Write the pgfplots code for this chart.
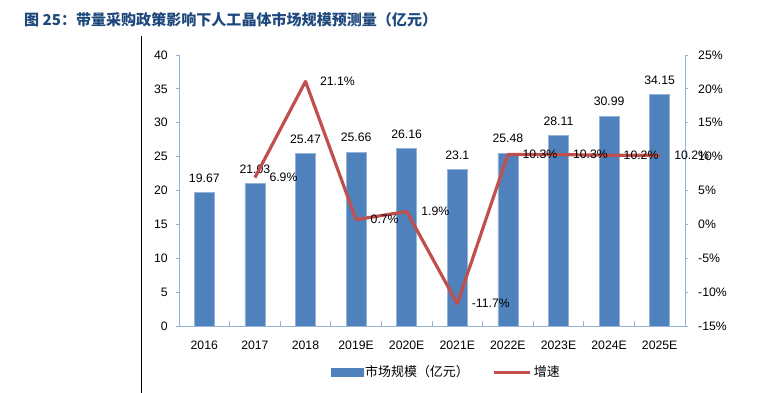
\documentclass[border=0pt]{standalone}
\usepackage{pgfplots}
\pgfplotsset{compat=1.18}
\usepackage{fontspec}
\setmainfont{Liberation Sans}
\newfontfamily\cjk{Noto Sans CJK SC}
\definecolor{barblue}{RGB}{79,129,189}
\definecolor{axisblue}{RGB}{149,179,215}
\definecolor{linered}{RGB}{192,80,77}
\definecolor{titleblue}{RGB}{31,73,125}
\begin{document}
\begin{tikzpicture}
\path[use as bounding box] (0bp,0bp) rectangle (776bp,-393bp);
\node[anchor=west, inner sep=0pt, text=titleblue] at (24bp,-19.5bp) {\cjk\bfseries\fontsize{15.1}{17}\selectfont 图 25：带量采购政策影响下人工晶体市场规模预测量（亿元）};
\draw[black, line width=0.8bp] (141bp,-36bp) -- (141bp,-393bp);
\begin{axis}[
  at={(179bp,-326bp)}, anchor=south west,
  scale only axis, width=506bp, height=271bp,
  xmin=-0.5, xmax=9.5, ymin=0, ymax=40,
  axis x line*=bottom, axis y line*=left,
  axis line style={draw=axisblue, line width=1bp, -},
  ytick={0,5,...,40},
  xtick={0,...,9},
  xticklabels={2016,2017,2018,2019E,2020E,2021E,2022E,2023E,2024E,2025E},
  xtick style={draw=none},
  ytick style={draw=axisblue, line width=0.8bp},
  major tick length=3bp, tick align=outside,
  extra x ticks={0.5,1.5,...,8.5}, extra x tick labels={},
  extra x tick style={xtick style={draw=axisblue, line width=0.8bp}, major tick length=5bp, tick align=inside},
  tick label style={font=\fontsize{12.3}{14}\selectfont},
  xticklabel style={anchor=north, inner sep=0pt, yshift=-12bp},
  yticklabel style={anchor=east, inner sep=0pt, xshift=-8bp},
  /pgf/number format/assume math mode=true,
  ybar, bar width=20bp,
  legend style={at={(0.528,-0.170)}, anchor=center, draw=none, fill=none, legend columns=2,
    font=\cjk\fontsize{13}{15}\selectfont,
    /tikz/every even column/.append style={column sep=22bp}},
]
\addplot[fill=barblue, draw=axisblue, line width=0.6bp,
  nodes near coords={\pgfmathprintnumber[fixed,precision=2]{\pgfplotspointmeta}},
  every node near coord/.append style={font=\fontsize{12.3}{14}\selectfont, inner sep=0pt, anchor=south, yshift=10bp, text=black},
  legend image code/.code={\fill[barblue] (0bp,-4bp) rectangle (32bp,4bp);}]
  coordinates {(0,19.67) (1,21.03) (2,25.47) (3,25.66) (4,26.16) (5,23.1) (6,25.48) (7,28.11) (8,30.99) (9,34.15)};
\addlegendentry{市场规模（亿元）}
\addlegendimage{legend image code/.code={\draw[linered, line width=3bp] (0bp,0bp) -- (36bp,0bp);}}
\addlegendentry{增速}
\end{axis}
\begin{axis}[
  at={(179bp,-326bp)}, anchor=south west,
  scale only axis, width=506bp, height=271bp,
  xmin=-0.5, xmax=9.5, ymin=-15, ymax=25,
  axis y line*=right, axis x line=none,
  axis line style={draw=axisblue, line width=1bp, -},
  ytick={-15,-10,...,25},
  yticklabels={-15\%,-10\%,-5\%,0\%,5\%,10\%,15\%,20\%,25\%},
  ytick style={draw=axisblue, line width=0.8bp},
  major tick length=3bp, tick align=outside,
  tick label style={font=\fontsize{12.3}{14}\selectfont},
  yticklabel style={anchor=west, inner sep=0pt, xshift=10bp},
  clip=false,
]
\addplot[linered, line width=3.2bp, line join=round, mark=none,
  point meta=explicit symbolic,
  nodes near coords,
  every node near coord/.append style={font=\fontsize{12.3}{14}\selectfont, inner sep=0pt, anchor=west, xshift=13bp, text=black}]
  coordinates {(1,6.9) [6.9\%] (2,21.1) [21.1\%] (3,0.7) [0.7\%] (4,1.9) [1.9\%] (5,-11.7) [-11.7\%] (6,10.3) [10.3\%] (7,10.3) [10.3\%] (8,10.2) [10.2\%] (9,10.2) [10.2\%]};
\end{axis}
\end{tikzpicture}
\end{document}
